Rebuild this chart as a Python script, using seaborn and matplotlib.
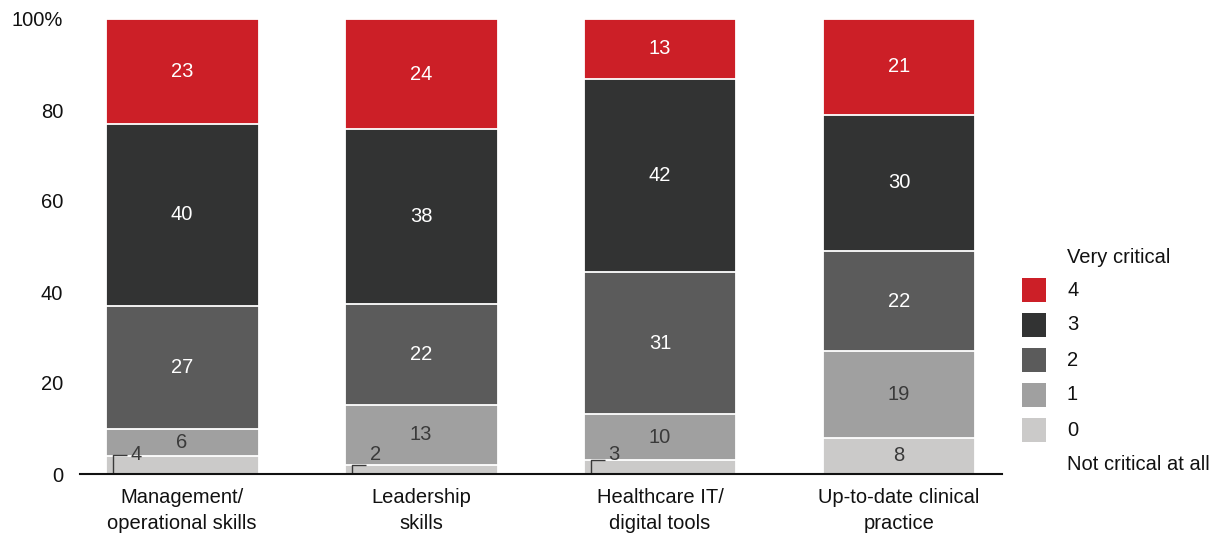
import numpy as np
import pandas as pd
import matplotlib
matplotlib.use("Agg")
import matplotlib.pyplot as plt
import seaborn as sns
from matplotlib.patches import Rectangle

# data (share of respondents, %)
categories = ["Management/\noperational skills", "Leadership\nskills",
              "Healthcare IT/\ndigital tools", "Up-to-date clinical\npractice"]
levels = ["0", "1", "2", "3", "4"]
score_0 = [4, 2, 3, 8]
score_1 = [6, 13, 10, 19]
score_2 = [27, 22, 31, 22]
score_3 = [40, 38, 42, 30]
score_4 = [23, 24, 13, 21]

colors = {"0": "#cbcac9", "1": "#a0a0a0", "2": "#5b5b5b", "3": "#323333", "4": "#cc1f27"}
text_colors = {"0": "#3a3a3a", "1": "#3a3a3a", "2": "white", "3": "white", "4": "white"}

sns.set_style("white")
plt.rcParams["font.family"] = ["Liberation Sans", "DejaVu Sans"]

vals = pd.DataFrame({"0": score_0, "1": score_1, "2": score_2, "3": score_3, "4": score_4},
                    index=categories)
# bars in the picture are all drawn to a full 100%
shares = vals.div(vals.sum(axis=1), axis=0) * 100
cum = shares.cumsum(axis=1)

fig = plt.figure(figsize=(12.17, 5.36), dpi=100)
ax = fig.add_axes([80 / 1217, 62 / 536, 922 / 1217, 455 / 536])

width = 0.64
fs = 14.5
# draw cumulative totals from top level down so each layer covers the previous
for lvl in reversed(levels):
    df = pd.DataFrame({"category": categories, "value": cum[lvl].values})
    sns.barplot(data=df, x="category", y="value", order=categories, color=colors[lvl],
                width=width, saturation=1, edgecolor="white", linewidth=1.3, ax=ax, zorder=1)

# segment labels; small ones sit outside with a leader line
small_y = 4.2
for i, cat in enumerate(categories):
    left = i - width / 2
    for lvl in levels:
        v = vals.loc[cat, lvl]
        top = cum.loc[cat, lvl]
        mid = top - shares.loc[cat, lvl] / 2
        if v < 5:
            h = small_y if top + 1 >= small_y else top
            ax.plot([left + 0.03, left + 0.03, left + 0.09], [0, h, h],
                    color="#3a3a3a", lw=1, zorder=3, solid_capstyle="butt")
            ax.text(left + 0.105, small_y, str(v), ha="left", va="center",
                    fontsize=fs, color="#3a3a3a", zorder=4)
        else:
            ax.text(i, mid, str(v), ha="center", va="center",
                    fontsize=fs, color=text_colors[lvl], zorder=4)

ax.set_xlim(-0.427, 3.431)
ax.set_ylim(0, 100)
ax.set_yticks([0, 20, 40, 60, 80, 100])
ax.set_yticklabels(["0", "20", "40", "60", "80", "100%"])
ax.set_xlabel("")
ax.set_ylabel("")
ax.tick_params(axis="y", length=0, pad=12, labelsize=fs, colors="#111111")
ax.tick_params(axis="x", length=0, pad=10, labelsize=fs, colors="#111111")
for lab in ax.get_xticklabels():
    lab.set_linespacing(1.45)
sns.despine(ax=ax, left=True)
ax.spines["bottom"].set_color("#111111")
ax.spines["bottom"].set_linewidth(1.5)
ax.spines["bottom"].set_zorder(5)

# legend, drawn by hand to carry the scale end labels
W, H = 1217, 536
fig.text(1067 / W, 1 - 257 / H, "Very critical", fontsize=fs, va="center", ha="left", color="#111111")
fig.text(1067 / W, 1 - 465 / H, "Not critical at all", fontsize=fs, va="center", ha="left", color="#111111")
for k, lvl in enumerate(reversed(levels)):
    yc = 290 + k * 35
    fig.patches.append(Rectangle((1022 / W, 1 - (yc + 12) / H), 24 / W, 24 / H,
                                 transform=fig.transFigure, facecolor=colors[lvl],
                                 edgecolor="none"))
    fig.text(1067 / W, 1 - yc / H, lvl, fontsize=fs, va="center", ha="left", color="#111111")

fig.savefig("out.png", dpi=100)
